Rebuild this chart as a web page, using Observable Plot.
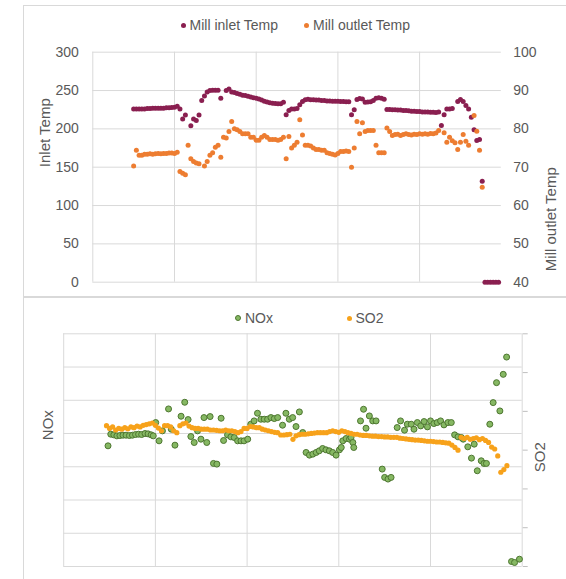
<!DOCTYPE html>
<html><head><meta charset="utf-8">
<script src="https://cdn.jsdelivr.net/npm/d3@7"></script>
<script src="https://cdn.jsdelivr.net/npm/@observablehq/plot@0.6"></script>
<style>
body{margin:0;background:#fff;font-family:"Liberation Sans",Arial,sans-serif;}
#wrap{position:relative;width:566px;height:579px;overflow:hidden;background:#fff;}
.frame{position:absolute;border:1px solid #d9d9d9;box-sizing:border-box;}
.leg{position:absolute;font-size:14px;color:#595959;white-space:nowrap;line-height:16px;}
.leg i{display:inline-block;width:5px;height:5px;border-radius:50%;margin-right:4px;vertical-align:middle;position:relative;top:-1px;}
#wrap svg{position:absolute;left:0;}
</style></head><body><div id="wrap"></div>
<script>
// ---------- data ----------
const inletStart = 15;   // sample index of first point
const inletTemp = [
 226, 226, 226, 226, 226, 226.5, 226.5, 227, 227, 227,
 227, 227, 227.5, 227.5, 228, 228.3, 229.5, 226, 213, 218,
 null, 204, 213, 211, 218, 237, 243, 248, 250, 250.5,
 250.5, 250.5, 240, null, 250, 252, 248, 247.5, 246, 245,
 244, 243.5, 242.5, 241.5, 240.5, 240, 239, 237.5, 236, 235,
 234, 233.5, 233, 232.7, 232.7, 234.8, 218.3, 224, 226, 226,
 226.5, 231.4, 235.7, 238, 238.5, 238, 238, 237.5, 237.5, 237,
 237, 236.5, 236.5, 236, 236, 236, 235.7, 235.7, 235.5, 235.5,
 218.3, 225, 238.3, 239.5, 239, 234.8, 235, 235.5, 237, 240,
 240.5, 240, 238.5, 225.3, 225.3, 225, 225, 224.5, 224.5, 224,
 224, 223.5, 223, 223, 222.5, 222.5, 222, 222, 222, 221.7,
 221.7, 221.5, 222, 204.4, 218.3, 226, 226, 226.5, null, 235.7,
 238.3, 235.7, 230.5, 226, 215, 198.8, 184.8, 186, 131.7, 0,
 0, 0, 0, 0, 0
];
const outletStart = 15;
const outletTemp = [
 70.3, 74.4, 73.1, 73.1, 73.4, 73.4, 73.5, 73.4, 73.5, 73.6,
 73.5, 73.6, 73.6, 73.7, 73.7, 73.6, 73.9, 68.9, 68.4, 68.0,
 75.7, 72.2, 71.5, 71.1, 70.9, null, 70.3, 71.5, 73.1, 73.8,
 75.2, 75.7, 72.6, 77.8, 77.6, 79.3, 81.9, 80.0, 79.8, 79.3,
 78.7, 78.7, 78.7, 77.8, 77.8, 77.0, 77.0, 77.8, 78.3, 77.8,
 77.2, 77.2, 77.2, 77.0, 77.2, 77.8, 72.2, 78.0, 75.0, 75.7,
 76.5, 82.4, 78.4, 75.7, 75.7, 75.5, 75.0, 74.6, 74.6, 74.4,
 74.4, 73.8, 73.6, 73.4, 73.2, 73.6, 74.1, 74.1, 74.2, 74.1,
 70.0, 75.0, 81.9, 78.7, 81.6, 79.3, 79.6, 79.6, 79.6, 75.7,
 73.8, 73.8, 73.8, 80.2, 79.3, 78.3, 78.5, 78.6, 78.3, 78.5,
 78.7, 78.5, 78.4, 78.6, 78.5, 78.7, 78.6, 78.7, 78.6, 78.8,
 78.7, 78.9, 79.6, null, 79.0, 76.5, 77.8, 76.9, 76.4, 74.6,
 76.5, 78.5, 76.8, 75.7, null, 83.5, 79.4, 74.4, 64.8
];
const so2Start = 14;
const so2 = [
 363, 356, 360, 352, 356, 354, 358, 355, 360, 358,
 362, 360, 364, 366, 368, 370, 364, 357, 350, 363,
 363, 360, 350, 345, 363, 368, 370, 362, 358, 356,
 356, 354, 354, 354, 352, 352, 351, 350, 350, 352,
 350, 350, 348, 345, 348, 356, 356, 361, 360, 358,
 358, 354, 352, 350, 348, 346, 345, 339, 339, 340,
 341, 328, 337, 340, 341, 341, 342, 343, 344, 345,
 345, 345, 345, 348, 350, 348, 346, 350, 348, 345,
 343, 341, 341, 339, 338, 338, 337, 336, 336, 335,
 335, 334, 334, 333, 333, 333, 331, 330, 329, 328,
 327, 326, 326, 325, 324, 323, 323, 322, 321, 321,
 320, 319, 318, 313, 307, 300, 333, 330, 333, 328,
 330, 332, 327, 330, 325, 320, 308, 303, 285, 243,
 250, 260
];
// NOx: [sample index, value]
const nox = [
 [14.5,363],[15.4,398],[16.4,396],[17.4,393],[18.4,394],[19.4,395],[20.4,395],[21.5,394],[22.5,395],[23.5,397],
 [24.5,398],[25.5,397],[26.6,400],[27.6,399],[28.6,396],[29.3,393],[30.1,433],[31.2,378],[32.3,408],[34.3,474],
 [35.2,413],[36.4,365],[38.4,452],[39.6,494],[40.7,442],[41.6,391],[42.7,373],[43.8,408],[44.9,383],[45.9,448],
 [46.8,373],[47.9,451],[49,310],[50.1,308],[51.5,446],[52.3,379],[53.6,396],[54.7,390],[55.8,388],[56.9,378],
 [58,378],[59,378],[60.2,383],[61.2,428],[62.3,438],[63.4,461],[64.5,443],[65.6,443],[66.7,443],[67.8,448],
 [68.9,445],[70,448],[71.6,425],[72.7,461],[73.8,443],[74.9,448],[76,421],[77.1,465],[78.2,403],[79.3,343],
 [80.4,335],[81.5,338],[82.6,343],[83.6,348],[84.7,355],[85.8,351],[86.9,348],[88,343],[89.1,335],[90.2,351],
 [90.8,358],[91.3,378],[92.4,385],[93.5,383],[94,388],[94.6,373],[94.9,358],[97.1,438],[98.1,473],[98.9,416],
 [100,453],[101.1,438],[102.2,438],[104.2,293],[105,268],[106.1,263],[107.1,268],[109.1,418],[110.2,438],[111.5,410],
 [112.4,428],[113.7,428],[114.6,413],[115.7,433],[116.8,423],[117.9,436],[119,420],[120,438],[121.1,430],[122.2,433],
 [123.3,438],[124.4,426],[125.7,433],[126.8,433],[127.9,396],[129,390],[130.1,388],[130.7,383],[132.2,360],[133.4,326],
 [134.3,368],[135.3,288],[136.6,318],[137.5,310],[138.3,310],[139.4,428],[140.5,493],[141.6,553],[142.7,468],[143.8,578],
 [144.9,630],[146.5,15],[147.5,12],[149.1,22]
];
const xGrid = [0, 30, 60, 90, 120];
const inletTicks = [0, 50, 100, 150, 200, 250, 300];
const outletRange = [40, 100];
const noxTicks = [0, 100, 200, 300, 400, 500, 600, 700];
const so2Ticks = [0, 100, 200, 300, 400, 500, 600];

// ---------- styles ----------
const TXT = "#595959", GRID = "#d9d9d9";
const C_IN = "#8a1f50", C_OUT = "#ed7d31", C_NOX = "#86b863", C_NOX_S = "#4d7630", C_SO2 = "#f7a21b";
const FONT = '"Liberation Sans", Arial, sans-serif';

const rows = (arr, start) => arr.map((v, k) => ({t: start + k, v})).filter(d => d.v != null);
const outK = 300 / (outletRange[1] - outletRange[0]);
const so2K = 700 / 600;

const wrap = document.getElementById("wrap");
function addDiv(cls, css, html) {
  const d = document.createElement("div");
  d.className = cls; d.style.cssText = css; if (html) d.innerHTML = html;
  wrap.appendChild(d); return d;
}
addDiv("frame", "left:23px;top:5px;width:600px;height:292px;");
addDiv("frame", "left:23px;top:297px;width:600px;height:300px;");

const topChart = Plot.plot({
  width: 566, height: 300,
  marginLeft: 92.3, marginRight: 65.2, marginTop: 51.7, marginBottom: 18.3,
  style: {fontFamily: FONT, fontSize: "14px", color: TXT, background: "transparent", overflow: "visible"},
  x: {domain: [0, 150], axis: null},
  y: {domain: [0, 300]},
  marks: [
    Plot.ruleX(xGrid, {stroke: GRID}),
    Plot.ruleY(inletTicks, {stroke: GRID}),
    Plot.axisY({anchor: "left", ticks: inletTicks, tickSize: 0, tickPadding: 14, label: null, fill: TXT}),
    Plot.axisY({anchor: "right", ticks: inletTicks, tickSize: 0, tickPadding: 12, label: null, fill: TXT,
      tickFormat: d => d / outK + outletRange[0]}),
    Plot.text(["Inlet Temp"], {text: d => d, frameAnchor: "left", dx: -48, rotate: -90, fontSize: 15, fill: TXT}),
    Plot.text(["Mill outlet Temp"], {text: d => d, frameAnchor: "right", dx: 50, rotate: -90, fontSize: 15, fill: TXT}),
    Plot.dot(rows(inletTemp, inletStart), {x: "t", y: "v", r: 2.5, fill: C_IN}),
    Plot.dot(rows(outletTemp, outletStart), {x: "t", y: d => (d.v - outletRange[0]) * outK, r: 2.5, fill: C_OUT})
  ]
});
topChart.style.top = "0px";
wrap.appendChild(topChart);

const bottomChart = Plot.plot({
  width: 566, height: 289,
  marginLeft: 63.2, marginRight: 44.3, marginTop: 43.3, marginBottom: 13,
  style: {fontFamily: FONT, fontSize: "14px", color: TXT, background: "transparent", overflow: "visible"},
  x: {domain: [0, 150], axis: null},
  y: {domain: [0, 700]},
  marks: [
    Plot.ruleX(xGrid, {stroke: GRID}),
    Plot.ruleY(noxTicks, {stroke: GRID}),
    Plot.ruleX([150], {stroke: GRID}),
    Plot.axisY({anchor: "left", ticks: noxTicks, tickSize: 0, tickFormat: () => "", label: null}),
    Plot.axisY({anchor: "right", ticks: so2Ticks.map(s => s * so2K), tickSize: 5, stroke: "#bfbfbf",
      tickFormat: () => "", label: null}),
    Plot.text(["NOx"], {text: d => d, frameAnchor: "left", dx: -16, dy: -10, rotate: -90, fontSize: 15, fill: TXT}),
    Plot.text(["SO2"], {text: d => d, frameAnchor: "right", dx: 18, dy: -8, rotate: -90, fontSize: 15, fill: TXT}),
    Plot.dot(nox, {x: d => d[0], y: d => d[1], r: 3, fill: C_NOX, stroke: C_NOX_S, strokeWidth: 1}),
    Plot.dot(rows(so2, so2Start), {x: "t", y: d => d.v * so2K, r: 2.6, fill: C_SO2})
  ]
});
bottomChart.style.top = "290px";
wrap.appendChild(bottomChart);

// legends
addDiv("leg", "left:180.5px;top:17px;", `<i style="background:${C_IN}"></i>Mill inlet Temp`);
addDiv("leg", "left:304px;top:17px;", `<i style="background:${C_OUT}"></i>Mill outlet Temp`);
addDiv("leg", "left:235px;top:310px;", `<i style="background:${C_NOX};border:1px solid ${C_NOX_S};width:4px;height:4px"></i>NOx`);
addDiv("leg", "left:346.5px;top:310px;", `<i style="background:${C_SO2}"></i>SO2`);
</script></body></html>
